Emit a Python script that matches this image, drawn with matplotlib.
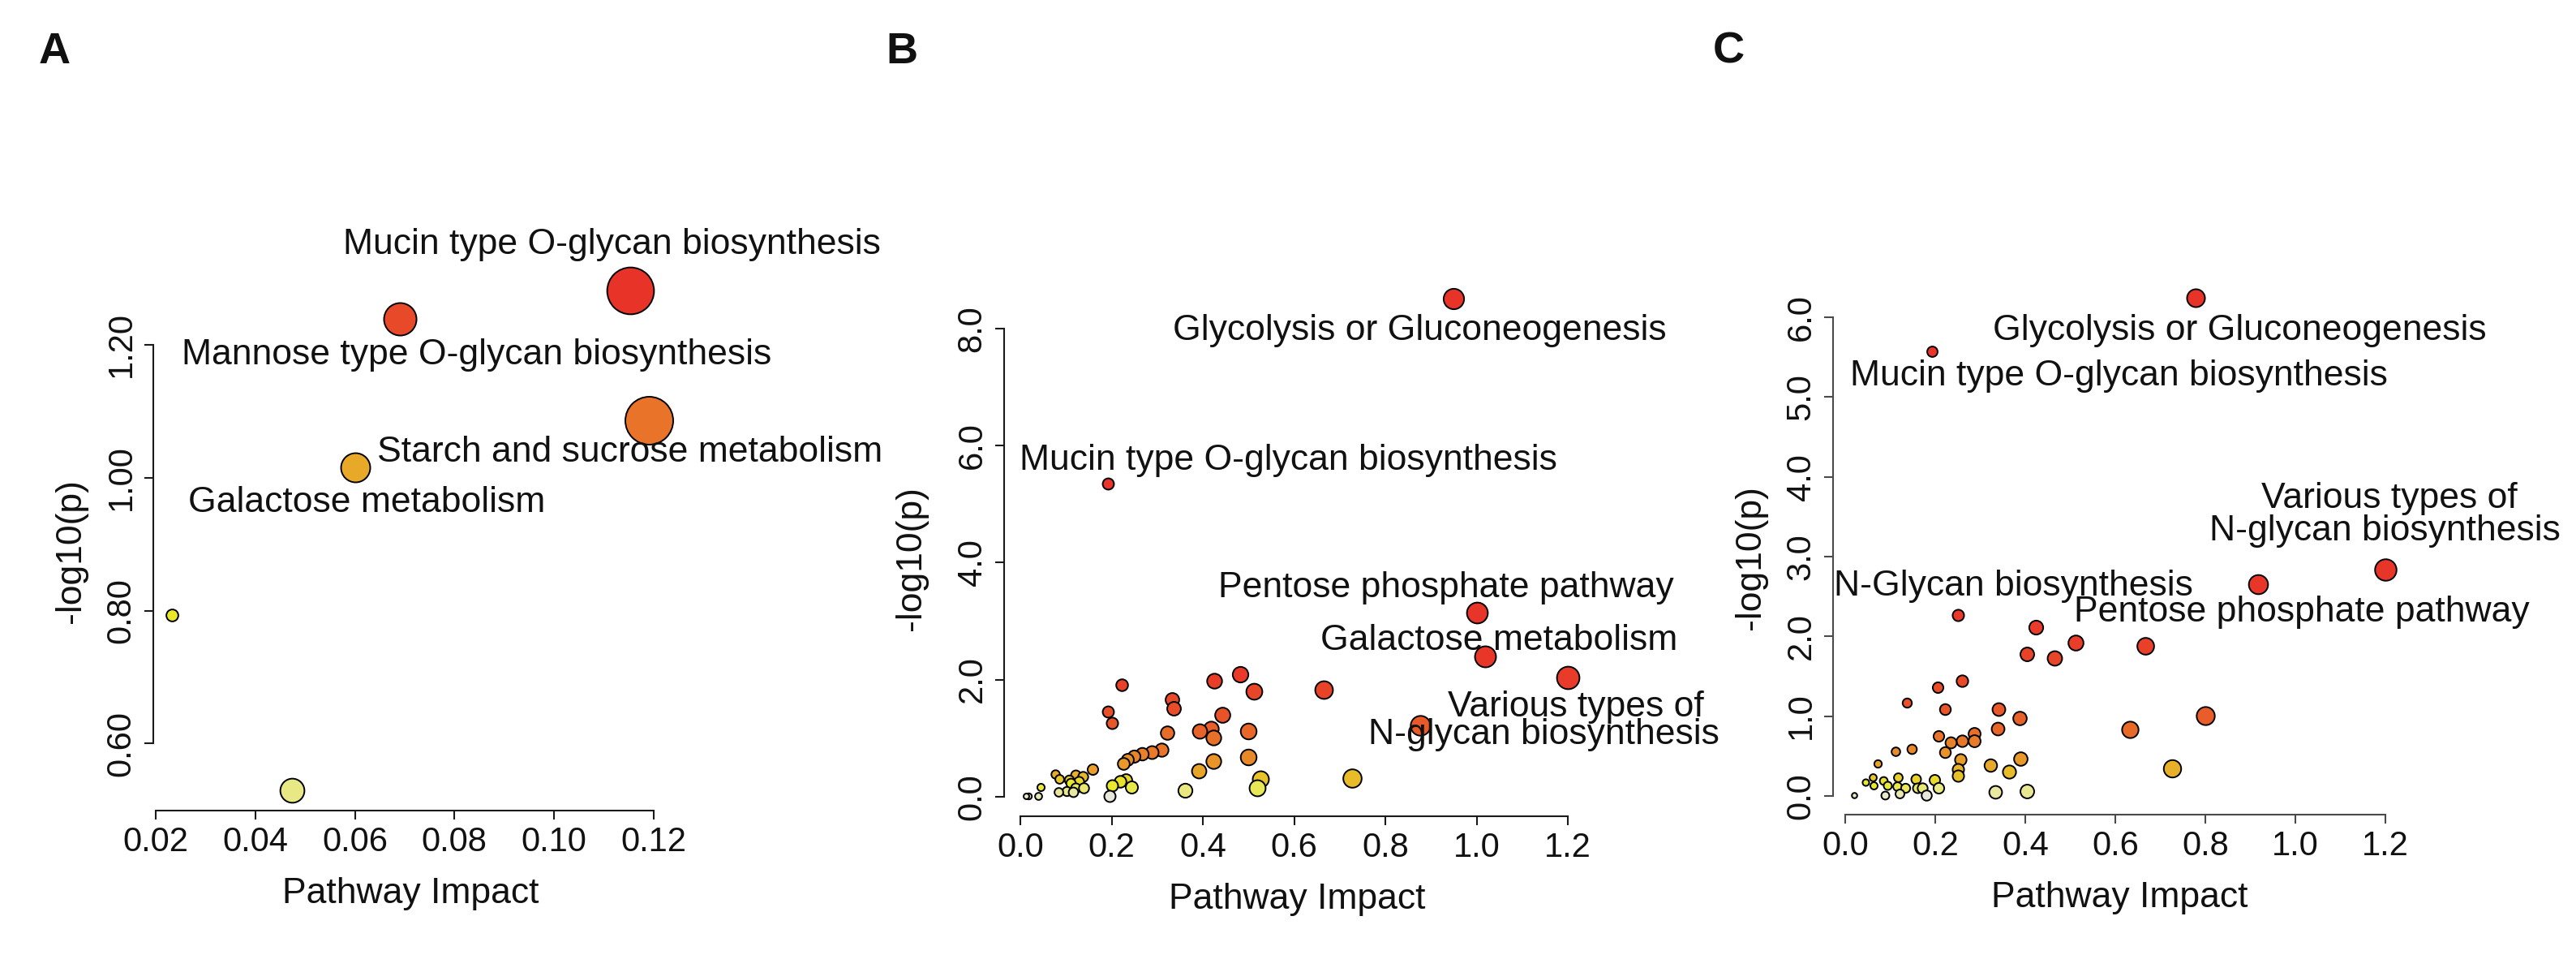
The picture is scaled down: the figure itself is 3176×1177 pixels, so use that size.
import colorsys
import numpy as np
import matplotlib
matplotlib.use("Agg")
import matplotlib.pyplot as plt
from matplotlib.ticker import FixedLocator, FormatStrFormatter

plt.rcParams['font.family'] = ['Liberation Sans', 'DejaVu Sans']

# ---------------- data ----------------
# Panel A
a_impact = [0.1153, 0.069, 0.119, 0.060, 0.0233, 0.0474]
a_logp = [1.282, 1.239, 1.086, 1.015, 0.793, 0.530]
a_xticks = [0.02, 0.04, 0.06, 0.08, 0.10, 0.12]
a_yticks = [0.60, 0.80, 1.00, 1.20]
a_labels = ["Mucin type O-glycan biosynthesis",
            "Mannose type O-glycan biosynthesis",
            "Starch and sucrose metabolism",
            "Galactose metabolism"]

# Panel B
b_impact = [0.949, 0.192, 1.0, 1.019, 1.2,
            0.2215, 0.191, 0.201, 0.332, 0.336, 0.425, 0.481, 0.511, 0.442,
            0.3215, 0.3926, 0.4175, 0.4235, 0.4987, 0.4235, 0.4987, 0.665, 0.8767,
            0.225, 0.235, 0.249, 0.267, 0.288, 0.309,
            0.391, 0.727, 0.526, 0.518, 0.361,
            0.0757, 0.0858, 0.1587, 0.136, 0.121, 0.107, 0.044, 0.038, 0.0176, 0.0117,
            0.083, 0.1006, 0.1153, 0.121, 0.139, 0.1095, 0.127,
            0.2, 0.195, 0.219, 0.2428, 0.231]
b_logp = [8.52, 5.35, 3.15, 2.39, 2.04,
          1.905, 1.458, 1.264, 1.665, 1.513, 1.975, 2.094, 1.804, 1.402,
          1.089, 1.125, 1.158, 1.006, 1.125, 0.60, 0.674, 1.827, 1.218,
          0.57, 0.63, 0.69, 0.73, 0.76, 0.80,
          0.443, 0.32, 0.304, 0.143, 0.107,
          0.383, 0.304, 0.466, 0.35, 0.374, 0.281, 0.166, 0.004, 0.004, 0.004,
          0.074, 0.097, 0.074, 0.143, 0.143, 0.235, 0.259,
          0.19, 0.004, 0.259, 0.166, 0.281]
b_xticks = [0.0, 0.2, 0.4, 0.6, 0.8, 1.0, 1.2]
b_yticks = [0.0, 2.0, 4.0, 6.0, 8.0]
b_labels = ["Glycolysis or Gluconeogenesis",
            "Mucin type O-glycan biosynthesis",
            "Pentose phosphate pathway",
            "Galactose metabolism",
            "Various types of",
            "N-glycan biosynthesis"]

# Panel C
c_impact = [0.779, 0.192, 1.2, 0.918,
            0.2493, 0.4223, 0.512, 0.666, 0.403, 0.4645, 0.2596, 0.2043, 0.1364,
            0.2211, 0.3394, 0.3875, 0.80, 0.633, 0.3376, 0.2061, 0.2344, 0.2585,
            0.2855, 0.2868, 0.1472, 0.1111, 0.2211, 0.3888, 0.726, 0.0721, 0.2553,
            0.2493, 0.2493, 0.3214, 0.3634, 0.3335, 0.4026, 0.0193, 0.045, 0.06,
            0.063, 0.084, 0.093, 0.087, 0.117, 0.114, 0.12, 0.132, 0.156, 0.159,
            0.171, 0.18, 0.198, 0.207]
c_logp = [6.24, 5.57, 2.84, 2.65,
          2.266, 2.118, 1.922, 1.88, 1.78, 1.726, 1.439, 1.358, 1.169,
          1.084, 1.084, 0.977, 1.01, 0.83, 0.841, 0.747, 0.673, 0.689,
          0.78, 0.689, 0.588, 0.554, 0.547, 0.47, 0.34, 0.402, 0.453,
          0.334, 0.25, 0.385, 0.301, 0.048, 0.065, 0.014, 0.176, 0.233,
          0.132, 0.19, 0.132, 0.014, 0.233, 0.116, 0.03, 0.098, 0.217, 0.098,
          0.098, 0.014, 0.2, 0.098]
c_xticks = [0.0, 0.2, 0.4, 0.6, 0.8, 1.0, 1.2]
c_yticks = [0.0, 1.0, 2.0, 3.0, 4.0, 5.0, 6.0]
c_labels = ["Glycolysis or Gluconeogenesis",
            "Mucin type O-glycan biosynthesis",
            "Various types of",
            "N-glycan biosynthesis",
            "N-Glycan biosynthesis",
            "Pentose phosphate pathway"]

# ---------------- layout (not data) ----------------
W, H = 3176, 1177
DPI = 100
# axes boxes in pixels: left, right, top, bottom
boxes = {
    'A': (189, 823, 333, 998.5),
    'B': (1238, 1960, 343, 1006),
    'C': (2260, 2967, 343, 1004),
}
letter_pos = {'A': (67, 64), 'B': (1112, 64), 'C': (2131, 64)}
# label anchor positions (data coords, baseline-centered)
a_label_pos = [(0.1117, 1.336), (0.0845, 1.171), (0.1153, 1.024), (0.0624, 0.949)]
b_label_pos = [(0.874, 7.81), (0.5875, 5.59), (0.933, 3.41), (1.049, 2.51),
               (1.2175, 1.37), (1.1476, 0.894)]
c_label_pos = [(0.876, 5.72), (0.6075, 5.148), (1.21, 3.61), (1.20, 3.20),
               (0.374, 2.51), (1.0145, 2.19)]
ylab_x = {'A': -0.16, 'B': -0.158, 'C': -0.144}
axis_col = {'A': '#1a1a1a', 'B': '#1a1a1a', 'C': '#4a4a4a'}


def heat_colors(n):
    j = n // 4
    i = n - j
    cols = []
    for k in range(i):
        h = (1 / 6) * k / (i - 1) if i > 1 else 0.0
        cols.append(colorsys.hsv_to_rgb(h, 1, 1))
    if j > 0:
        for sv in np.linspace(1 - 1 / (2 * j), 1 / (2 * j), j):
            cols.append(colorsys.hsv_to_rgb(1 / 6, sv, 1))
    # tone of the printed figure
    return [(0.91 * r, 0.2 + 0.71 * g ** 1.5, 0.16 + 0.72 * b) for r, g, b in cols]


def radii(x):
    sq = np.sqrt(np.asarray(x, float))
    mn, mx = sq.min(), sq.max()
    minR = (mx - mn) / 160
    maxR = (mx - mn) / 40
    return minR + (maxR - minR) * (sq - mn) / (mx - mn)


fig = plt.figure(figsize=(W / DPI, H / DPI), dpi=DPI)


def panel(key, xs, ys, xticks, yticks, xfmt, yfmt, labels, lpos):
    l, r, t, b = boxes[key]
    ax = fig.add_axes([l / W, 1 - b / H, (r - l) / W, (b - t) / H])
    xs = np.asarray(xs, float)
    ys = np.asarray(ys, float)
    xr = xs.max() - xs.min()
    yr = ys.max() - ys.min()
    ax.set_xlim(xs.min() - 0.04 * xr, xs.max() + 0.04 * xr)
    ax.set_ylim(ys.min() - 0.04 * yr, ys.max() + 0.04 * yr)
    # pixel per x unit
    p0 = ax.transData.transform([[0, 0], [1, 0]])
    ppu = p0[1, 0] - p0[0, 0]
    rad = radii(xs)
    order = np.argsort(-ys, kind='stable')
    cols = heat_colors(len(xs))
    for k, idx in enumerate(order):
        d_pt = 2 * rad[idx] * ppu * 72 / DPI
        ax.scatter([xs[idx]], [ys[idx]], s=d_pt ** 2, color=cols[k],
                   edgecolors='black', linewidths=1.4, zorder=2 + k * 0.01,
                   clip_on=False)
    for s, (tx, ty) in zip(labels, lpos):
        ax.text(tx, ty, s, ha='center', va='baseline', fontsize=32,
                color='#111111', zorder=10)
    for side in ('top', 'right'):
        ax.spines[side].set_visible(False)
    ax.spines['left'].set_bounds(yticks[0], yticks[-1])
    ax.spines['bottom'].set_bounds(xticks[0], xticks[-1])
    for side in ('left', 'bottom'):
        ax.spines[side].set_linewidth(1.5)
        ax.spines[side].set_color(axis_col[key])
    ax.xaxis.set_major_locator(FixedLocator(xticks))
    ax.yaxis.set_major_locator(FixedLocator(yticks))
    ax.xaxis.set_major_formatter(FormatStrFormatter(xfmt))
    ax.yaxis.set_major_formatter(FormatStrFormatter(yfmt))
    ax.tick_params(axis='both', direction='out', length=8, width=1.5,
                   color=axis_col[key], labelsize=30, labelcolor='#111111')
    ax.tick_params(axis='x', pad=6)
    ax.tick_params(axis='y', pad=6)
    for lab in ax.get_yticklabels():
        lab.set_rotation(90)
        lab.set_va('center')
        lab.set_ha('right')
    ax.set_facecolor('none')
    ax.set_xlabel('Pathway Impact', fontsize=32, color='#111111')
    ax.set_ylabel('-log10(p)', fontsize=32, color='#111111')
    ax.xaxis.set_label_coords(0.5, -0.155)
    ax.xaxis.label.set_va('center')
    ax.yaxis.set_label_coords(ylab_x[key], 0.48)
    ax.yaxis.label.set_va('center')
    lx, ly = letter_pos[key]
    fig.text(lx / W, 1 - ly / H, key, fontsize=39, fontweight='bold',
             ha='center', va='center', color='#111111')
    return ax


panel('A', a_impact, a_logp, a_xticks, a_yticks, '%.2f', '%.2f', a_labels, a_label_pos)
panel('B', b_impact, b_logp, b_xticks, b_yticks, '%.1f', '%.1f', b_labels, b_label_pos)
panel('C', c_impact, c_logp, c_xticks, c_yticks, '%.1f', '%.1f', c_labels, c_label_pos)

fig.savefig('out.png', dpi=DPI, facecolor='white')
